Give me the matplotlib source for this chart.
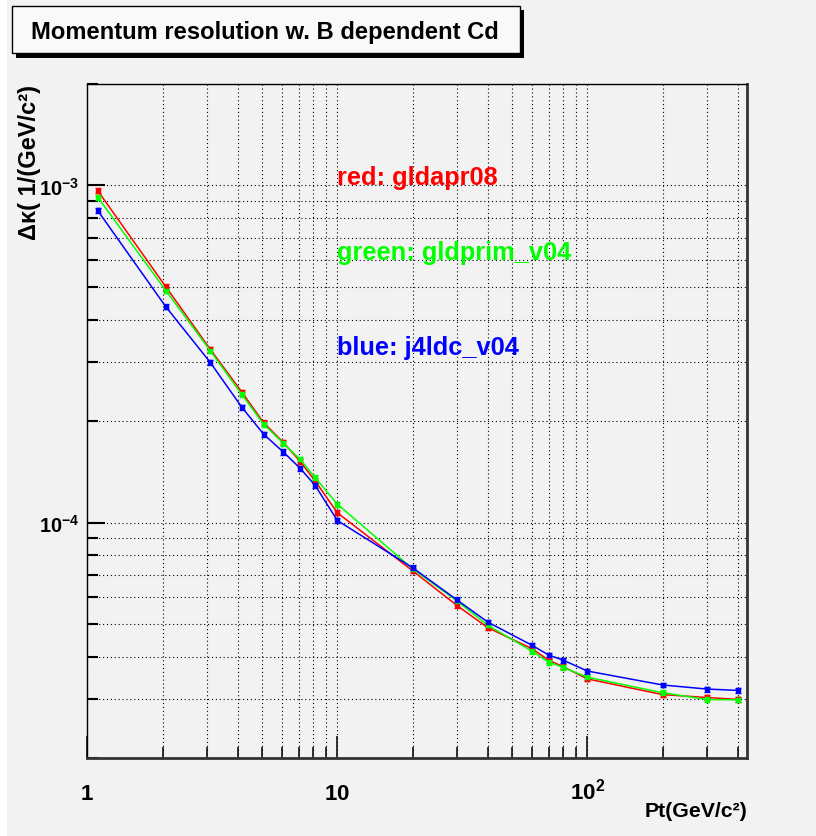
#!/usr/bin/env python

"""Momentum resolution vs Pt for three detector geometries (ROOT style plot).
"""

import matplotlib
matplotlib.use('Agg')
import matplotlib.patches as mpatches
import matplotlib.pyplot as plt
import matplotlib.ticker as ticker
from matplotlib import font_manager

# Pt points (GeV/c)
pt = [1.1, 2.06, 3.1, 4.15, 5.07, 6.08, 7.1, 8.15, 10, 20, 30, 40,
      60, 70, 80, 100, 200, 300, 400]

# delta kappa, 1/(GeV/c)
red_gldapr08 = [9.66e-4, 5.01e-4, 3.27e-4, 2.44e-4, 1.98e-4, 1.73e-4,
                1.52e-4, 1.33e-4, 1.07e-4, 7.2e-5, 5.69e-5, 4.88e-5,
                4.23e-5, 3.91e-5, 3.74e-5, 3.44e-5, 3.09e-5, 3.03e-5,
                2.99e-5]
green_gldprim_v04 = [9.24e-4, 4.88e-4, 3.24e-4, 2.40e-4, 1.96e-4, 1.72e-4,
                     1.54e-4, 1.36e-4, 1.135e-4, 7.3e-5, 5.87e-5, 4.96e-5,
                     4.16e-5, 3.86e-5, 3.72e-5, 3.48e-5, 3.13e-5, 2.99e-5,
                     2.98e-5]
blue_j4ldc_v04 = [8.43e-4, 4.37e-4, 2.99e-4, 2.20e-4, 1.83e-4, 1.62e-4,
                  1.45e-4, 1.29e-4, 1.015e-4, 7.35e-5, 5.91e-5, 5.07e-5,
                  4.33e-5, 4.05e-5, 3.91e-5, 3.63e-5, 3.30e-5, 3.21e-5,
                  3.18e-5]

red_err = [1.7e-5, 8.5e-6, 5.6e-6, 4.1e-6, 3.4e-6, 2.9e-6, 2.6e-6, 2.3e-6,
           1.8e-6, 1.2e-6, 9.7e-7, 8.3e-7, 7.2e-7, 6.6e-7, 6.4e-7, 5.8e-7,
           5.3e-7, 5.2e-7, 5.1e-7]
green_err = [1.6e-5, 8.3e-6, 5.5e-6, 4.1e-6, 3.3e-6, 2.9e-6, 2.6e-6, 2.3e-6,
             1.9e-6, 1.2e-6, 1.0e-6, 8.4e-7, 7.1e-7, 6.6e-7, 6.3e-7, 5.9e-7,
             5.3e-7, 5.1e-7, 5.1e-7]
blue_err = [1.4e-5, 7.4e-6, 5.1e-6, 3.7e-6, 3.1e-6, 2.8e-6, 2.5e-6, 2.2e-6,
            1.7e-6, 1.2e-6, 1.0e-6, 8.6e-7, 7.4e-7, 6.9e-7, 6.6e-7, 6.2e-7,
            5.6e-7, 5.5e-7, 5.4e-7]

legend_texts = ['red: gldapr08', 'green: gldprim_v04', 'blue: j4ldc_v04']
title = 'Momentum resolution w. B dependent Cd'
x_title = 'Pt(GeV/c\u00b2)'
y_title = '\u0394\u03ba( 1/(GeV/c\u00b2)'
x_tick_values = [1, 10, 100]
x_tick_labels = [r'$\mathbf{1}$', r'$\mathbf{10}$', r'$\mathbf{10^{2}}$']
y_tick_values = [1e-4, 1e-3]
y_tick_labels = [r'$\mathbf{10^{-4}}$', r'$\mathbf{10^{-3}}$']

W, H = 816, 837
BG = '#f2f2f2'


def pick_family(names):
    """Return the first installed family in names."""
    for name in names:
        try:
            font_manager.findfont(
                font_manager.FontProperties(family=name, weight='bold'),
                fallback_to_default=False)
            return name
        except ValueError:
            continue
    return 'DejaVu Sans'


def px(x, y):
    """Pixel position (from top left) to figure fraction."""
    return x / W, 1 - y / H


def plot_resolution(output_filename):
    narrow = pick_family(['Liberation Sans Narrow', 'DejaVu Sans Condensed',
                          'Liberation Sans'])
    wide = pick_family(['Liberation Sans', 'DejaVu Sans'])
    shrink = 1.0 if 'Narrow' in narrow or 'Condensed' in narrow else 0.85

    plt.rcParams['mathtext.fontset'] = 'custom'
    plt.rcParams['mathtext.bf'] = narrow + ':bold'
    plt.rcParams['mathtext.rm'] = narrow + ':bold'

    fig = plt.figure(figsize=(W / 100, H / 100), dpi=100, facecolor=BG)
    fig.patches.append(mpatches.Rectangle((0, 0), 7 / W, 1,
                                          transform=fig.transFigure,
                                          facecolor='white', edgecolor='none'))

    left, top = px(87.3, 85)
    right, bottom = px(746.7, 759.3)
    ax = fig.add_axes([left, bottom, right - left, top - bottom])
    ax.set_facecolor(BG)
    ax.set_xscale('log')
    ax.set_yscale('log')
    ax.set_xlim(1, 434)
    ax.set_ylim(2e-5, 2e-3)

    series = [(red_gldapr08, red_err, '#ff0000'),
              (green_gldprim_v04, green_err, '#00ff00'),
              (blue_j4ldc_v04, blue_err, '#0000ff')]
    for values, errs, color in series:
        ax.errorbar(pt, values, yerr=errs, fmt='-s', color=color, lw=1.1,
                    ms=3, elinewidth=1, capsize=2.5, capthick=1, zorder=3)

    ax.grid(which='both', color='black', linestyle=(0, (1, 2.5)),
            linewidth=0.8, zorder=1)

    ax.xaxis.set_major_locator(ticker.FixedLocator(x_tick_values))
    ax.xaxis.set_major_formatter(ticker.FixedFormatter(x_tick_labels))
    ax.xaxis.set_minor_locator(ticker.LogLocator(subs=range(2, 10),
                                                 numticks=20))
    ax.xaxis.set_minor_formatter(ticker.NullFormatter())
    ax.yaxis.set_major_locator(ticker.FixedLocator(y_tick_values))
    ax.yaxis.set_major_formatter(ticker.FixedFormatter(y_tick_labels))
    ax.yaxis.set_minor_locator(ticker.LogLocator(subs=range(2, 10),
                                                 numticks=20))
    ax.yaxis.set_minor_formatter(ticker.NullFormatter())

    ax.tick_params(axis='x', which='major', direction='in', length=16,
                   width=1.1, pad=29, labelsize=19 * shrink)
    ax.tick_params(axis='x', which='minor', direction='in', length=8,
                   width=1.1)
    ax.tick_params(axis='y', which='major', direction='in', length=13,
                   width=1.5, pad=6, labelsize=17 * shrink)
    ax.tick_params(axis='y', which='minor', direction='in', length=8,
                   width=1.5)
    for lab in ax.get_xticklabels():
        lab.set_verticalalignment('baseline')

    for side in ['top', 'left']:
        ax.spines[side].set_linewidth(1.0)
        ax.spines[side].set_color('black')
    for side in ['right', 'bottom']:
        ax.spines[side].set_linewidth(2.0)
        ax.spines[side].set_color('#333333')

    # title box with shadow
    sx, sy = px(16, 59)
    fig.patches.append(mpatches.Rectangle((sx, sy), 508 / W, 48 / H,
                                          transform=fig.transFigure,
                                          facecolor='black',
                                          edgecolor='none'))
    bx, by = px(12, 54)
    fig.patches.append(mpatches.Rectangle((bx, by), 508 / W, 47 / H,
                                          transform=fig.transFigure,
                                          facecolor='#f9f9f9',
                                          edgecolor='black', linewidth=1))
    fig.text(*px(265, 32), title, ha='center', va='center',
             family=narrow, fontweight='bold', fontsize=21 * 0.815)

    # labels drawn on the pad
    colors = ['#ff0000', '#00ff00', '#0000ff']
    baselines = [185, 260, 355]
    for text, color, base in zip(legend_texts, colors, baselines):
        fig.text(*px(337, base), text, ha='left', va='baseline',
                 color=color, family=narrow, fontweight='bold',
                 fontsize=21.5 * shrink)

    fig.text(*px(747, 812), x_title, ha='right', va='center',
             family=narrow, fontweight='bold', fontsize=18 * shrink)
    fig.text(*px(30, 85), y_title, ha='center', va='top', rotation=90,
             family=wide, fontweight='bold', fontsize=17)

    fig.savefig(output_filename, dpi=100, facecolor=BG)


def main():
    plot_resolution('out.png')


if __name__ == '__main__':
    main()
